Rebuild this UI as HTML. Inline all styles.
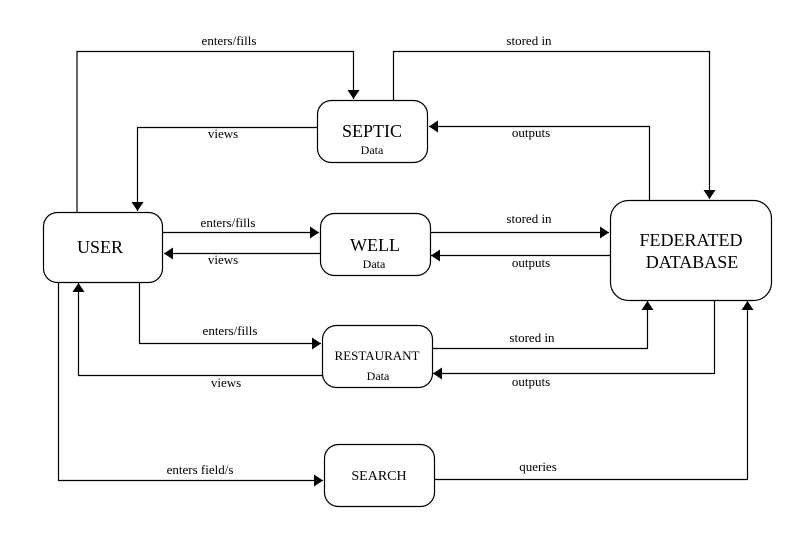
<!DOCTYPE html>
<html><head><meta charset="utf-8"><style>
html,body{margin:0;padding:0;background:#fff;}
svg{display:block;}
text{font-family:"Liberation Serif",serif;fill:#000;}
.l{font-size:13px;text-anchor:middle;}
.t{font-size:18px;text-anchor:middle;}
.d{font-size:12px;text-anchor:middle;}
</style></head><body>
<svg width="791" height="546" viewBox="0 0 791 546">
<defs>
<marker id="a" markerUnits="userSpaceOnUse" markerWidth="10" markerHeight="14" refX="9" refY="6" orient="auto">
<path d="M0,0 L9,6 L0,12 Z" fill="#000"/>
</marker>
</defs>
<g fill="#fff" stroke="#000" stroke-width="1.2">
<rect x="43.5" y="212.5" width="119" height="70" rx="14"/>
<rect x="317.5" y="100.5" width="110" height="62" rx="14"/>
<rect x="320.5" y="213.5" width="110" height="62" rx="14"/>
<rect x="322.5" y="325.5" width="110" height="62" rx="14"/>
<rect x="324.5" y="444.5" width="110" height="62" rx="14"/>
<rect x="610.5" y="200.5" width="161" height="100" rx="18"/>
</g>
<g fill="none" stroke="#000" stroke-width="1.2" marker-end="url(#a)">
<polyline points="77,212 77,51.5 353.5,51.5 353.5,99"/>
<polyline points="393.5,100 393.5,51.5 709.5,51.5 709.5,199"/>
<polyline points="649.5,200 649.5,126.5 429,126.5"/>
<polyline points="317,127.5 137.5,127.5 137.5,211"/>
<polyline points="163,232.5 319,232.5"/>
<polyline points="320,253.5 164,253.5"/>
<polyline points="431,232.5 609,232.5"/>
<polyline points="610,255.5 431,255.5"/>
<polyline points="139.5,283 139.5,343.5 321,343.5"/>
<polyline points="322,375.5 78.5,375.5 78.5,283"/>
<polyline points="433,348.5 647.5,348.5 647.5,301"/>
<polyline points="714.5,301 714.5,373.5 433,373.5"/>
<polyline points="58.5,283 58.5,480.5 323,480.5"/>
<polyline points="435,479.5 747.5,479.5 747.5,301"/>
</g>
<text class="t" x="100" y="253">USER</text>
<text class="t" x="372" y="137">SEPTIC</text>
<text class="d" x="372" y="154">Data</text>
<text class="t" x="375" y="251">WELL</text>
<text class="d" x="374" y="268">Data</text>
<text class="d" x="377" y="360" style="font-size:13px">RESTAURANT</text>
<text class="d" x="378" y="380">Data</text>
<text class="d" x="379" y="480" style="font-size:14px">SEARCH</text>
<text class="t" x="691" y="246">FEDERATED</text>
<text class="t" x="692" y="268">DATABASE</text>
<text class="l" x="229" y="45">enters/fills</text>
<text class="l" x="529" y="45">stored in</text>
<text class="l" x="223" y="138">views</text>
<text class="l" x="531" y="137">outputs</text>
<text class="l" x="228" y="227">enters/fills</text>
<text class="l" x="223" y="264">views</text>
<text class="l" x="529" y="223">stored in</text>
<text class="l" x="531" y="267">outputs</text>
<text class="l" x="230" y="335">enters/fills</text>
<text class="l" x="226" y="387">views</text>
<text class="l" x="532" y="342">stored in</text>
<text class="l" x="531" y="386">outputs</text>
<text class="l" x="200" y="474">enters field/s</text>
<text class="l" x="538" y="471">queries</text>
</svg>
</body></html>
